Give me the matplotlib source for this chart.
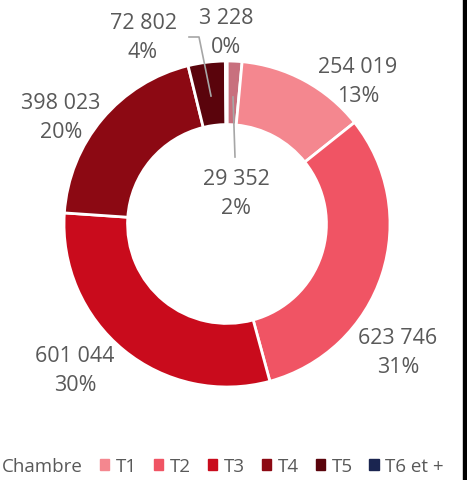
import matplotlib.pyplot as plt
from matplotlib.patches import Rectangle

plt.rcParams['font.family'] = ['Open Sans', 'DejaVu Sans']

# slices clockwise from 12 o'clock
values = [29352, 254019, 623746, 601044, 398023, 72802, 3228]
pct = ['2%', '13%', '31%', '30%', '20%', '4%', '0%']
colors = ['#c8707e', '#f4878f', '#f05464', '#c90b1c', '#8c0913', '#5a040c', '#1a2550']
legend_names = ['T1', 'T2', 'T3', 'T4', 'T5', 'T6 et +']
legend_colors = ['#f4878f', '#f05464', '#c90b1c', '#8c0913', '#5a040c', '#1a2550']

W, H = 467, 481
fig = plt.figure(figsize=(W / 100, H / 100), dpi=100)
# axes in pixel terms: center (227,225), radius 163
cx, cy, r = 227, 225, 163
ax = fig.add_axes([(cx - r) / W, 1 - (cy + r) / H, 2 * r / W, 2 * r / H])
ax.pie(values, colors=colors, startangle=90, counterclock=False, radius=1,
       wedgeprops=dict(width=0.39, edgecolor='white', linewidth=2))
ax.set_xlim(-1, 1)
ax.set_ylim(-1, 1)
ax.set_aspect('equal')


def px(x, y):
    return ((x - cx) / r, (cy - y) / r)


gray = '#595959'
fs = 15.5
label_pos = [(236, 194), (358, 82), (398, 353), (75, 371), (61, 118), (143, 38), (226, 33)]
for v, p, pos in zip(values, pct, label_pos):
    s = '{:,}'.format(v).replace(',', ' ')
    ax.text(*px(*pos), s + '\n' + p, ha='center', va='center', fontsize=fs,
            color=gray, linespacing=1.5, clip_on=False)

# leader lines
for pts in [[(189, 38), (199, 38), (211, 97)], [(233, 98), (235, 158)]]:
    xy = [px(*p) for p in pts]
    ax.plot([p[0] for p in xy], [p[1] for p in xy], color='#a6a6a6', lw=1.2, clip_on=False)

# legend
fs_leg = 13.5
fig.text(2 / W, 1 - 467 / H, 'Chambre', fontsize=fs_leg, color=gray, va='center', ha='left')
handles = [Rectangle((0, 0), 1, 1, color=c) for c in legend_colors]
leg = fig.legend(handles, legend_names, loc='center left', bbox_to_anchor=(100 / W, 1 - 467 / H),
                 ncol=6, frameon=False, fontsize=fs_leg, handlelength=0.5, handleheight=0.5,
                 handletextpad=0.35, columnspacing=0.9, borderaxespad=0, borderpad=0)
for t in leg.get_texts():
    t.set_color(gray)

# right border line
fig.patches.append(Rectangle((463 / W, 0), 4 / W, 1, transform=fig.transFigure,
                             color='black', zorder=10))

fig.savefig('out.png', dpi=100)
